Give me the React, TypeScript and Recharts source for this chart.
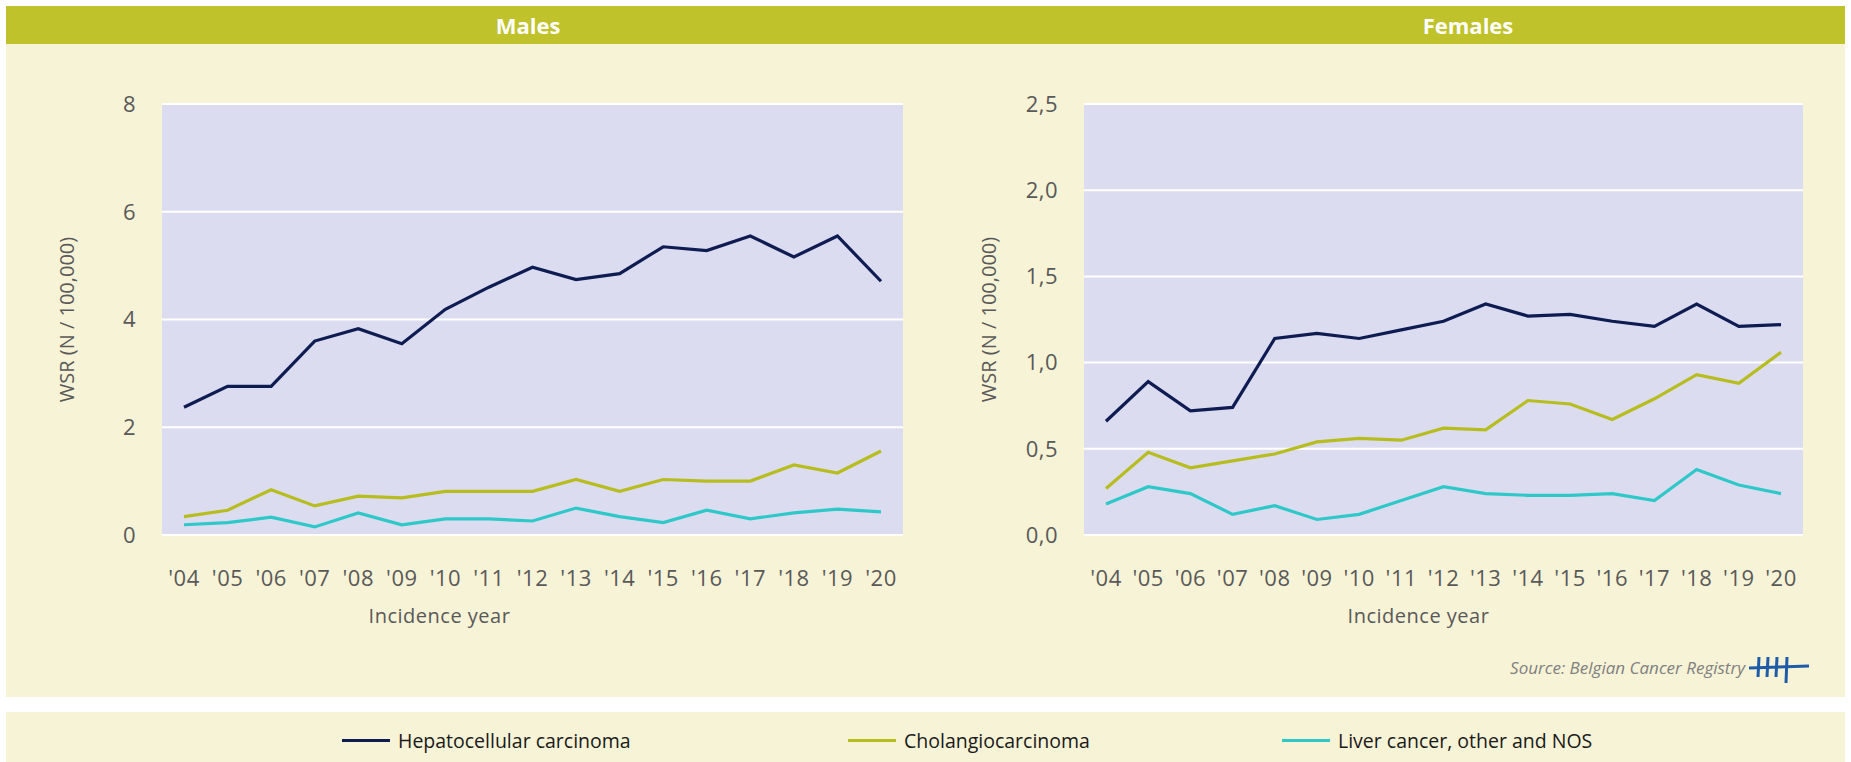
import React from 'react';
import { LineChart, Line, XAxis, YAxis, CartesianGrid } from 'recharts';

const years = ["'04", "'05", "'06", "'07", "'08", "'09", "'10", "'11", "'12", "'13", "'14", "'15", "'16", "'17", "'18", "'19", "'20"];

// Males, WSR per 100,000
const maleHcc = [2.37, 2.76, 2.76, 3.6, 3.83, 3.55, 4.19, 4.6, 4.97, 4.74, 4.85, 5.35, 5.28, 5.55, 5.16, 5.55, 4.71];
const maleCca = [0.34, 0.46, 0.84, 0.54, 0.72, 0.69, 0.81, 0.81, 0.81, 1.03, 0.81, 1.03, 1.0, 1.0, 1.3, 1.15, 1.56];
const maleOther = [0.19, 0.23, 0.33, 0.15, 0.41, 0.19, 0.3, 0.3, 0.26, 0.5, 0.34, 0.23, 0.46, 0.3, 0.41, 0.48, 0.43];

// Females
const femaleHcc = [0.66, 0.89, 0.72, 0.74, 1.14, 1.17, 1.14, 1.19, 1.24, 1.34, 1.27, 1.28, 1.24, 1.21, 1.34, 1.21, 1.22];
const femaleCca = [0.27, 0.48, 0.39, 0.43, 0.47, 0.54, 0.56, 0.55, 0.62, 0.61, 0.78, 0.76, 0.67, 0.79, 0.93, 0.88, 1.06];
const femaleOther = [0.18, 0.28, 0.24, 0.12, 0.17, 0.09, 0.12, 0.2, 0.28, 0.24, 0.23, 0.23, 0.24, 0.2, 0.38, 0.29, 0.24];

const maleTicks = [0, 2, 4, 6, 8];
const femaleTicks = [0, 0.5, 1, 1.5, 2, 2.5];

const series = [
  { key: 'hcc', name: 'Hepatocellular carcinoma', color: '#0e1c52' },
  { key: 'cca', name: 'Cholangiocarcinoma', color: '#b7bd1f' },
  { key: 'other', name: 'Liver cancer, other and NOS', color: '#2fc8c8' },
];

const buildRows = (hcc: number[], cca: number[], other: number[]) =>
  years.map((year, i) => ({ year, hcc: hcc[i], cca: cca[i], other: other[i] }));

const maleData = buildRows(maleHcc, maleCca, maleOther);
const femaleData = buildRows(femaleHcc, femaleCca, femaleOther);

const tickStyle = { fill: '#595959', fontSize: 22, fontFamily: 'Open Sans', letterSpacing: 0.5 };

interface PanelProps {
  data: any[];
  ticks: number[];
  fmt: (v: number) => string;
  left: number;
  width: number;
  yAxisWidth: number;
  titleOffset: number;
  xLabelDx: number;
}

const Panel: React.FC<PanelProps> = ({ data, ticks, fmt, left, width, yAxisWidth, titleOffset, xLabelDx }) => (
  <div style={{ position: 'absolute', left, top: 0 }}>
    <LineChart width={width} height={640} data={data} margin={{ top: 104, right: 27, bottom: 0, left: 0 }}>
      <CartesianGrid vertical={false} stroke="#ffffff" strokeWidth={2} strokeOpacity={1} fill="#dcdcf1" fillOpacity={1} />
      <XAxis
        dataKey="year"
        axisLine={false}
        tickLine={false}
        tickSize={0}
        tickMargin={35}
        height={105}
        interval={0}
        padding={{ left: 22, right: 22 }}
        tick={tickStyle}
        label={{
          value: 'Incidence year',
          position: 'insideTop',
          offset: 74,
          dx: xLabelDx,
          style: { fill: '#595959', fontSize: 20, fontFamily: 'Open Sans', letterSpacing: 0.5 },
        }}
      />
      <YAxis
        domain={[ticks[0], ticks[ticks.length - 1]]}
        ticks={ticks}
        axisLine={false}
        tickLine={false}
        tickSize={0}
        tickMargin={26}
        width={yAxisWidth}
        tickFormatter={fmt}
        tick={tickStyle}
        label={{
          value: 'WSR (N / 100,000)',
          angle: -90,
          position: 'insideLeft',
          offset: titleOffset,
          style: { textAnchor: 'middle', fill: '#595959', fontSize: 20, fontFamily: 'Open Sans' },
        }}
      />
      {series.map(s => (
        <Line
          key={s.key}
          type="linear"
          dataKey={s.key}
          name={s.name}
          stroke={s.color}
          strokeWidth={3.2}
          dot={false}
          isAnimationActive={false}
        />
      ))}
    </LineChart>
  </div>
);

const legendLeft = [342, 848, 1282];

const Logo = () => (
  <svg width={64} height={32} style={{ position: 'absolute', left: 1747, top: 653 }}>
    <line x1={2} y1={15} x2={62} y2={13} stroke="#1f5ca8" strokeWidth={3} />
    {[12, 21, 30, 40].map(x => (
      <line key={x} x1={x} y1={4} x2={x - 1} y2={x === 40 ? 30 : 24} stroke="#1f5ca8" strokeWidth={3} />
    ))}
  </svg>
);

export default function App() {
  return (
    <div
      style={{
        position: 'absolute',
        left: 0,
        top: 0,
        width: 1851,
        height: 762,
        background: '#ffffff',
        overflow: 'hidden',
        fontFamily: 'Open Sans',
      }}
    >
      {/* cream panel */}
      <div style={{ position: 'absolute', left: 6, top: 44, width: 1839, height: 653, background: '#f7f3d7' }} />
      {/* title band */}
      <div style={{ position: 'absolute', left: 6, top: 6, width: 1839, height: 38, background: '#bfc22a' }} />
      <div style={{ position: 'absolute', left: 428, top: 6, width: 200, height: 38, lineHeight: '38px', textAlign: 'center', color: '#fff', fontWeight: 700, fontSize: 22 }}>
        Males
      </div>
      <div style={{ position: 'absolute', left: 1368, top: 6, width: 200, height: 38, lineHeight: '38px', textAlign: 'center', color: '#fff', fontWeight: 700, fontSize: 22 }}>
        Females
      </div>

      <Panel data={maleData} ticks={maleTicks} fmt={v => String(v)} left={0} width={930} yAxisWidth={162} titleOffset={67} xLabelDx={-93} />
      <Panel
        data={femaleData}
        ticks={femaleTicks}
        fmt={v => v.toFixed(1).replace('.', ',')}
        left={930}
        width={900}
        yAxisWidth={154}
        titleOffset={59}
        xLabelDx={-25}
      />

      {/* source */}
      <div style={{ position: 'absolute', right: 1851 - 1745, top: 656, fontSize: 17, fontStyle: 'italic', color: '#808080' }}>
        Source: Belgian Cancer Registry
      </div>
      <Logo />

      {/* legend band */}
      <div style={{ position: 'absolute', left: 6, top: 712, width: 1839, height: 50, background: '#f7f3d7' }} />
      {series.map((s, i) => (
        <div key={s.key} style={{ position: 'absolute', left: legendLeft[i], top: 726, height: 28, display: 'flex', alignItems: 'center' }}>
          <div style={{ width: 48, height: 3, background: s.color, marginRight: 8 }} />
          <span style={{ fontSize: 19.5, color: '#1a1a1a' }}>{s.name}</span>
        </div>
      ))}
    </div>
  );
}
